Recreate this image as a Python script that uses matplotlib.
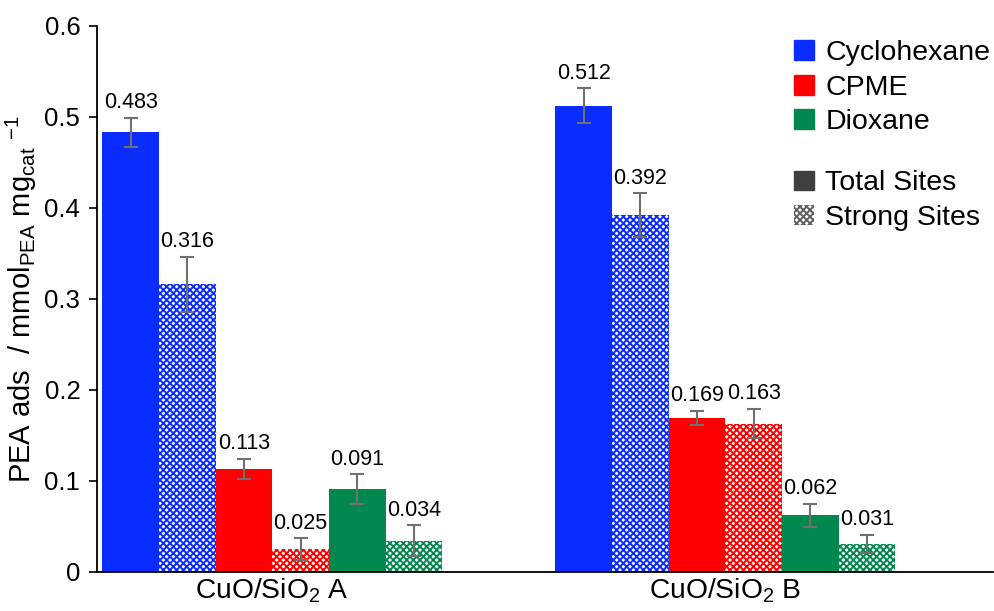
import numpy as np
import matplotlib.pyplot as plt
from matplotlib.patches import Patch

plt.rcParams['font.family'] = ['Liberation Sans', 'DejaVu Sans']
plt.rcParams['mathtext.fontset'] = 'custom'
plt.rcParams['mathtext.rm'] = 'Liberation Sans'
plt.rcParams['mathtext.it'] = 'Liberation Sans:italic'
plt.rcParams['hatch.linewidth'] = 1.4

groups = ['CuO/SiO$_2$ A', 'CuO/SiO$_2$ B']
solvents = ['Cyclohexane', 'CPME', 'Dioxane']
colors = ['#0a2cff', '#ff0000', '#00884f']
site_labels = ['Total Sites', 'Strong Sites']

# total sites / strong sites per solvent, for groups A and B
total = {'Cyclohexane': [0.483, 0.512], 'CPME': [0.113, 0.169], 'Dioxane': [0.091, 0.062]}
strong = {'Cyclohexane': [0.316, 0.392], 'CPME': [0.025, 0.163], 'Dioxane': [0.034, 0.031]}
total_err = {'Cyclohexane': [0.016, 0.019], 'CPME': [0.011, 0.008], 'Dioxane': [0.016, 0.013]}
strong_err = {'Cyclohexane': [0.030, 0.024], 'CPME': [0.012, 0.016], 'Dioxane': [0.017, 0.010]}

fig = plt.figure(figsize=(9.95, 6.11), dpi=100)
ax = fig.add_axes([0.0975, 0.064, 0.9, 0.894])

x = np.arange(len(groups))
w = 0.125
ekw = dict(ecolor='#707070', elinewidth=1.5, capsize=5, capthick=1.5)

k = 0
for s, c in zip(solvents, colors):
    for vals, errs, hatched in [(total[s], total_err[s], False), (strong[s], strong_err[s], True)]:
        pos = x - 2.5 * w + k * w
        if hatched:
            ax.bar(pos, vals, w, color='white', edgecolor=c, hatch='xxxxx', linewidth=0,
                   yerr=errs, error_kw=ekw)
        else:
            ax.bar(pos, vals, w, color=c, linewidth=0, yerr=errs, error_kw=ekw)
        for p, v, e in zip(pos, vals, errs):
            ax.text(p, v + e + 0.005, f'{v:.3f}', ha='center', va='bottom', fontsize=15.5)
        k += 1

ax.set_xlim(-0.387, 1.59)
ax.set_ylim(0, 0.6)
ax.set_yticks(np.arange(0, 0.61, 0.1))
ax.set_yticklabels(['0', '0.1', '0.2', '0.3', '0.4', '0.5', '0.6'])
ax.set_xticks(x)
ax.set_xticklabels(groups)
ax.tick_params(axis='x', length=0, labelsize=20.3, pad=3)
ax.tick_params(axis='y', length=6, width=1.2, labelsize=18.5, direction='out', pad=6)
for sp in ['top', 'right']:
    ax.spines[sp].set_visible(False)
ax.spines['left'].set_linewidth(1.3)
ax.spines['bottom'].set_linewidth(1.3)
ax.set_ylabel('PEA ads  / mmol$_{\\mathrm{PEA}}$ mg$_{\\mathrm{cat}}$ $^{-1}$', fontsize=21, labelpad=4)

leg_kw = dict(loc='upper left', bbox_transform=fig.transFigure, frameon=False, fontsize=20.5,
              handlelength=0.7, handleheight=0.7, handletextpad=0.4, labelspacing=0.3, borderaxespad=0.2)
h1 = [Patch(facecolor=c, edgecolor=c) for c in colors]
leg1 = ax.legend(h1, solvents, bbox_to_anchor=(0.781, 0.962), **leg_kw)
ax.add_artist(leg1)
h2 = [Patch(facecolor='#404040', edgecolor='#404040'),
      Patch(facecolor='white', edgecolor='#606060', hatch='xxxxx', linewidth=0)]
ax.legend(h2, site_labels, bbox_to_anchor=(0.781, 0.749), **leg_kw)

fig.savefig('out.png', dpi=100)
